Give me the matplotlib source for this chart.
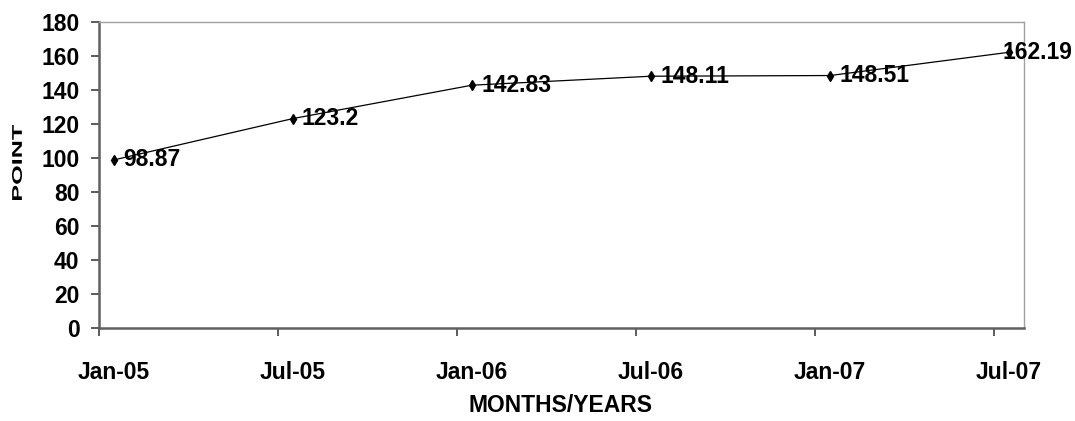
import numpy as np
import pandas as pd
import matplotlib
matplotlib.use("Agg")
import matplotlib.pyplot as plt
from matplotlib.textpath import TextPath
from matplotlib.patches import PathPatch
from matplotlib.transforms import Affine2D
from matplotlib.font_manager import FontProperties

plt.rcParams['font.family'] = ['Liberation Sans', 'DejaVu Sans']
plt.rcParams['font.weight'] = 'bold'

# index values per survey month
months = ["Jan-05", "Jul-05", "Jan-06", "Jul-06", "Jan-07", "Jul-07"]
values = [98.87, 123.2, 142.83, 148.11, 148.51, 162.19]
y_ticks = [0, 20, 40, 60, 80, 100, 120, 140, 160, 180]

dates = pd.to_datetime(months, format="%b-%y")
start = dates[0]
# months since the first survey, one slot per month
pos = np.array([(d.year - start.year) * 12 + d.month - start.month for d in dates])

W, H, DPI = 1075, 421, 100
fig = plt.figure(figsize=(W / DPI, H / DPI), dpi=DPI)
ax = fig.add_axes([99 / W, (H - 328) / H, 925 / W, 306 / H])

ax.plot(pos, values, color='black', lw=0.9, marker='d', ms=5.5,
        mfc='black', mec='black', zorder=3)

fs = 16.5
for i, (x, v) in enumerate(zip(pos, values)):
    # last label is pulled back so it stays inside the figure
    dx = 6.5 if i < len(values) - 1 else -4.5
    ax.annotate(f"{v:g}", (x, v), xytext=(dx, 0), textcoords='offset points',
                ha='left', va='center', fontsize=fs, fontweight='bold',
                annotation_clip=False, zorder=4)

ax.set_xlim(pos[0] - 0.5, pos[-1] + 0.5)
ax.set_ylim(0, 180)
ax.set_yticks(y_ticks)
ax.set_yticklabels([str(t) for t in y_ticks], fontsize=fs, fontweight='bold')

# tick marks sit on the month boundaries, labels in the middle of the month
ax.set_xticks(pos - 0.5)
ax.set_xticklabels([])
ax.set_xticks(pos, minor=True)
ax.set_xticklabels(months, minor=True, fontsize=fs, fontweight='bold')
ax.tick_params(axis='x', which='major', length=6, width=1.2, color='#404040',
               direction='out')
ax.tick_params(axis='x', which='minor', length=0, pad=24)
ax.tick_params(axis='y', length=6, width=1.2, color='#404040', pad=8)

for side in ('left', 'bottom'):
    ax.spines[side].set_color('#606060')
    ax.spines[side].set_linewidth(1.8)
for side in ('top', 'right'):
    ax.spines[side].set_color('#a0a0a0')
    ax.spines[side].set_linewidth(1.0)

fig.text(561 / W, (H - 405) / H, "MONTHS/YEARS", ha='center', va='center',
         fontsize=fs, fontweight='bold')

# narrow vertical axis title, drawn as a scaled glyph path
fp = FontProperties(family='Liberation Sans', weight='bold')
tp = TextPath((0, 0), "POINT", size=1, prop=fp)
ext = tp.get_extents()
tr = (Affine2D().translate(-ext.x0, -ext.y0)
      .scale(75 / ext.width, 10 / ext.height)
      .rotate_deg(90).translate(22, H - 200))
fig.add_artist(PathPatch(tp, transform=tr, color='black', lw=0))

fig.savefig("out.png", dpi=DPI)
